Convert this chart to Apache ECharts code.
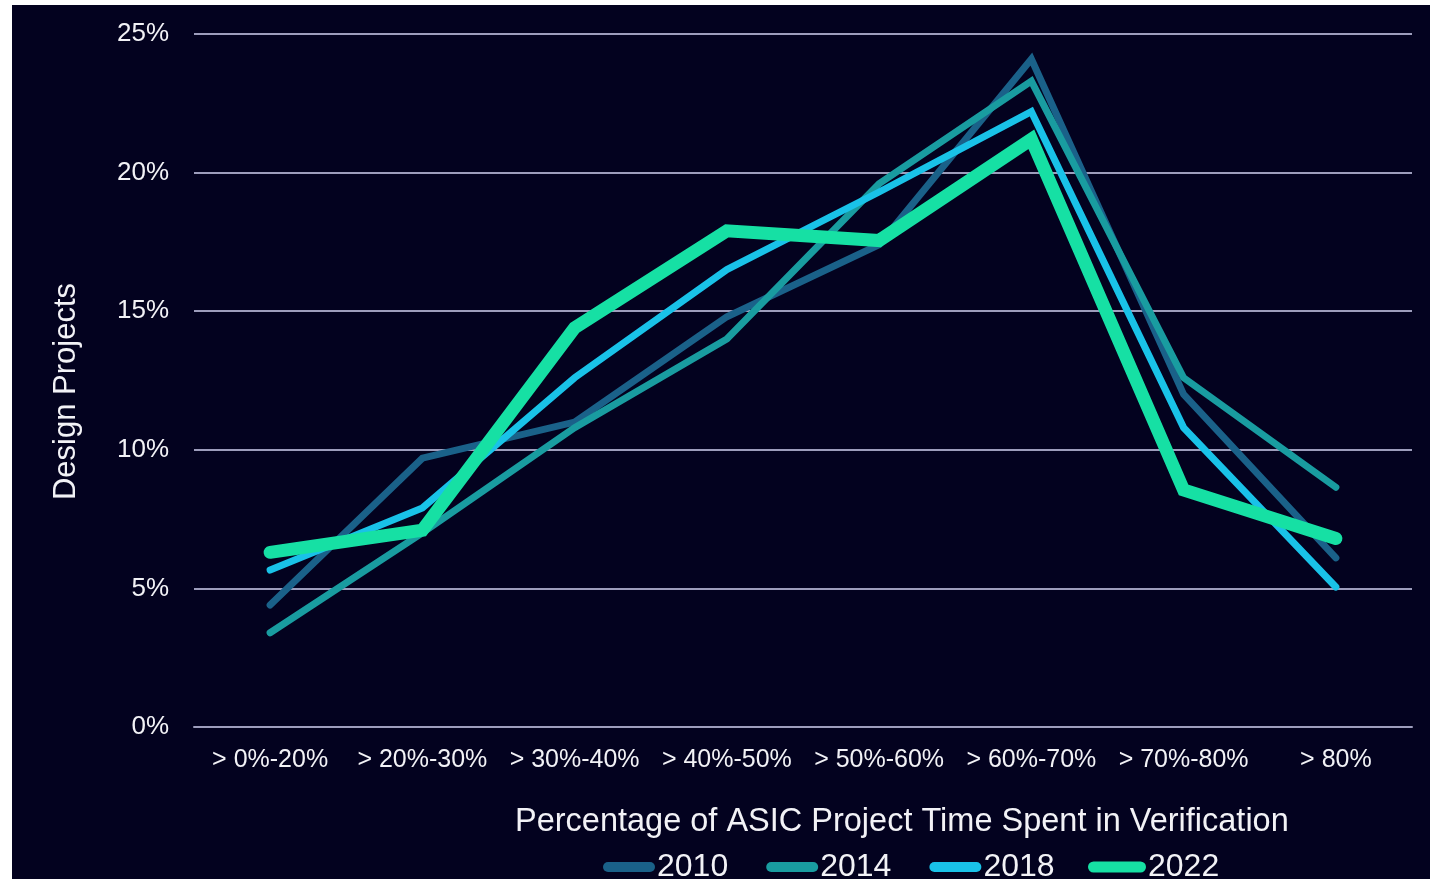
<!DOCTYPE html>
<html>
<head>
<meta charset="utf-8">
<title>ASIC Verification Time</title>
<script src="https://cdn.jsdelivr.net/npm/echarts@6/dist/echarts.min.js"></script>
<style>
  html, body { margin: 0; padding: 0; background: #ffffff; width: 1430px; height: 879px; overflow: hidden; }
  #chart { position: absolute; left: 12px; top: 5px; width: 1418px; height: 874px; }
</style>
</head>
<body>
<div id="chart"></div>
<script>
// Share of design projects by fraction of project time spent in verification
const categories = ['> 0%-20%', '> 20%-30%', '> 30%-40%', '> 40%-50%', '> 50%-60%', '> 60%-70%', '> 70%-80%', '> 80%'];
const years = ['2010', '2014', '2018', '2022'];
const values2010 = [4.4, 9.7, 11.0, 14.8, 17.4, 24.1, 12.0, 6.1];
const values2014 = [3.4, 7.0, 10.8, 14.0, 19.6, 23.3, 12.6, 8.65];
const values2018 = [5.66, 7.9, 12.6, 16.5, 19.3, 22.2, 10.8, 5.05];
const values2022 = [6.3, 7.1, 14.4, 17.9, 17.55, 21.2, 8.55, 6.8];
const yTicks = [0, 5, 10, 15, 20, 25];

const colors = ['#1a6189', '#199ca0', '#19c2e8', '#16e0a4'];
const widths = [7, 7, 7, 13];
const seriesValues = [values2010, values2014, values2018, values2022];

const capsule = 'path://M5,0 L47,0 A5,5 0 0 1 47,10 L5,10 A5,5 0 0 1 5,0 Z';
const textColor = '#f2f2f6';
const font = '"Liberation Sans", Arial, sans-serif';

const chart = echarts.init(document.getElementById('chart'), null, { renderer: 'canvas' });

chart.setOption({
  animation: false,
  backgroundColor: '#03021f',
  title: {
    text: 'Percentage of ASIC Project Time Spent in Verification',
    left: 503,
    top: 801,
    padding: 0,
    textStyle: { color: textColor, fontFamily: font, fontSize: 32.5, fontWeight: 'normal' }
  },
  legend: [
    {
      data: years.slice(0, 3),
      left: 591,
      top: 846,
      padding: 0,
      icon: capsule,
      itemWidth: 52,
      itemHeight: 11,
      itemGap: 38,
      selectedMode: false,
      textStyle: { color: textColor, fontFamily: font, fontSize: 32, padding: [0, 0, 0, -3] }
    },
    {
      data: [years[3]],
      left: 1076,
      top: 846,
      padding: 0,
      icon: capsule,
      itemWidth: 58,
      itemHeight: 17,
      selectedMode: false,
      textStyle: { color: textColor, fontFamily: font, fontSize: 32, padding: [0, 0, 0, -3] }
    }
  ],
  grid: { left: 182, right: 18, top: 29, bottom: 152, containLabel: false },
  xAxis: {
    type: 'category',
    data: categories,
    boundaryGap: true,
    axisLine: { show: true, lineStyle: { color: '#9d9dbc', width: 2 } },
    axisTick: { show: false },
    axisLabel: { color: textColor, fontFamily: font, fontSize: 25, margin: 21, interval: 0 }
  },
  yAxis: {
    type: 'value',
    min: yTicks[0],
    max: yTicks[yTicks.length - 1],
    interval: 5,
    name: 'Design Projects',
    nameLocation: 'middle',
    nameGap: 112,
    nameTextStyle: { color: textColor, fontFamily: font, fontSize: 31, padding: [0, 22, 0, 0] },
    axisLine: { show: false },
    axisTick: { show: false },
    axisLabel: { color: textColor, fontFamily: font, fontSize: 26, margin: 25, formatter: '{value}%', padding: [3, 0, 0, 0] },
    splitLine: { show: true, lineStyle: { color: '#9d9dbc', width: 2 } }
  },
  series: years.map((y, i) => ({
    name: y,
    type: 'line',
    data: seriesValues[i],
    symbol: 'none',
    showSymbol: false,
    color: colors[i],
    itemStyle: { color: colors[i] },
    lineStyle: { color: colors[i], width: widths[i], cap: 'round', join: 'miter' },
    z: 2 + i
  }))
});
</script>
</body>
</html>
